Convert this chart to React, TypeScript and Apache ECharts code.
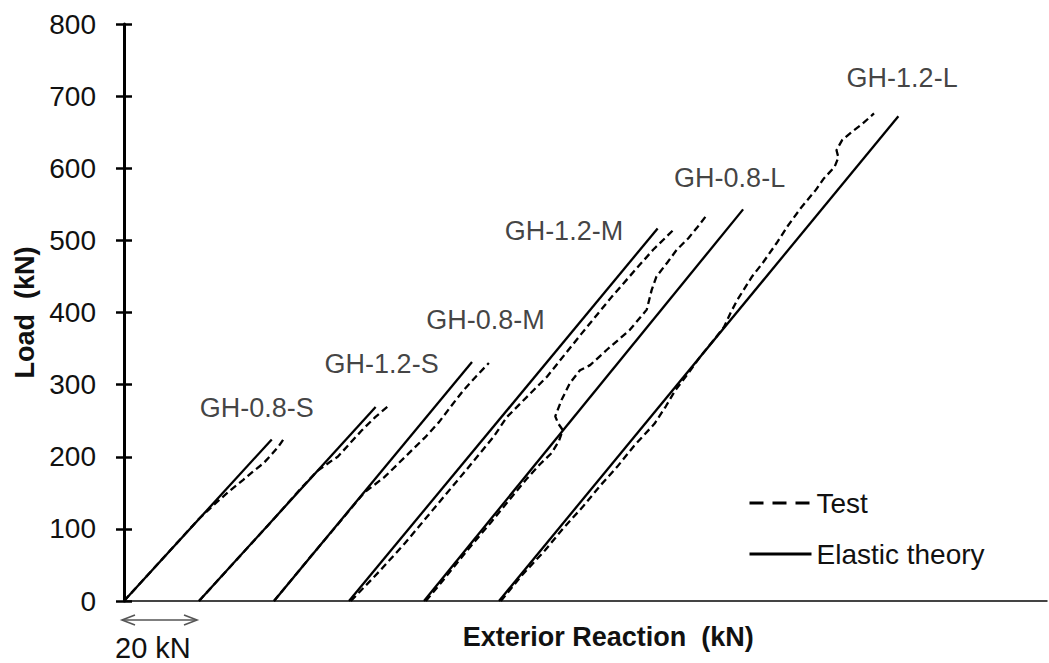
import React, { useEffect, useRef } from "react";
import * as echarts from "echarts";

// ---------- data (x = exterior reaction incl. 20 kN offset per specimen, y = load, kN) ----------
const specimenNames = ["GH-0.8-S", "GH-1.2-S", "GH-0.8-M", "GH-1.2-M", "GH-0.8-L", "GH-1.2-L"];
const originOffsets = [0, 20, 40, 60, 80, 100];
const elasticEndX = [39.4, 67.1, 92.8, 142.3, 165.1, 206.5];
const elasticEndLoad = [224, 269, 331.5, 516.5, 543, 672];

const test08S = [[0, 0], [10, 57], [20, 114], [24.3, 135], [28, 152], [31.8, 168], [34.5, 180], [37.2, 191], [39.5, 204], [41.3, 215], [42.5, 224]];
const test12S = [[20, 0], [30, 57], [40, 114], [47, 155], [51.5, 180], [55.5, 195], [57, 200], [60.5, 220], [63.5, 237], [67, 255], [70.2, 269]];
const test08M = [[40, 0], [50, 63], [56, 100], [60.8, 130], [64, 150], [69.5, 172], [75, 200], [80.5, 228], [84, 248], [87.2, 270], [90.5, 292], [94, 312], [97.3, 330]];
const test12M = [[60.5, 0], [67.9, 40], [74.9, 80], [82.3, 126], [91, 180], [98.6, 228], [102.1, 255], [112.8, 311], [121.9, 370], [130.1, 422], [136.5, 460], [141.1, 487], [146.6, 515]];
const test08L = [[80.5, 0], [84.5, 25], [91.5, 70], [98, 110], [103.5, 145], [107.5, 170], [111, 190], [114, 205], [116, 222], [117, 237], [115.8, 246], [115, 256], [116.7, 279], [118.9, 302], [121.6, 320], [124.3, 327], [128.7, 348], [134.9, 376], [139.4, 404], [140.7, 431], [142, 450], [145, 470], [147.4, 487], [150.5, 503], [153, 519], [155.4, 535]];
const test12L = [[100.5, 0], [106, 35], [112.4, 71], [117, 100], [122.4, 131], [127, 160], [131.5, 186], [136, 215], [141.5, 246], [144.5, 270], [147, 292], [150.5, 316], [153.7, 339], [157, 360], [160, 380], [161.8, 400], [163.5, 417], [167.5, 450], [170.5, 470], [174, 496], [177, 520], [180.5, 545], [184.5, 570], [186.5, 585], [189.5, 602], [190.5, 615], [190, 625], [191.5, 639], [194, 650], [197, 662], [200, 676]];
const testCurves = [test08S, test12S, test08M, test12M, test08L, test12L];

// label anchor positions in data units
const labelX = [35.4, 68.7, 96.4, 117.3, 161.5, 207.5];
const labelY = [267.6, 328.6, 389.6, 513, 586.5, 725];

const yMin = 0;
const yMax = 800;
const yInterval = 100;
const xMin = 0;
const xMax = 246;
const scaleBarKN = 20;

const FONT = "'Liberation Sans', Arial, sans-serif";
const TXT = "#111";

export default function App() {
  const ref = useRef<HTMLDivElement>(null);

  useEffect(() => {
    document.body.style.margin = "0";
    const chart = echarts.init(ref.current!, null, { renderer: "svg" });

    const series: any[] = [];
    testCurves.forEach((curve, i) => {
      series.push({
        name: "Test",
        type: "line",
        data: curve,
        symbol: "none",
        silent: true,
        color: "#000",
        lineStyle: { color: "#000", width: 2.3, type: [7, 4] },
        z: 3,
      });
      series.push({
        name: "Elastic theory",
        type: "line",
        data: [
          [originOffsets[i], 0],
          [elasticEndX[i], elasticEndLoad[i]],
        ],
        symbol: "none",
        silent: true,
        color: "#000",
        lineStyle: { color: "#000", width: 2.3, type: "solid" },
        z: 4,
      });
    });
    series.push({
      name: "labels",
      type: "scatter",
      silent: true,
      symbolSize: 1,
      itemStyle: { color: "transparent" },
      data: specimenNames.map((n, i) => ({ name: n, value: [labelX[i], labelY[i]] })),
      label: {
        show: true,
        position: "inside",
        formatter: (p: any) => p.name,
        fontFamily: FONT,
        fontSize: 27,
        color: TXT,
      },
    });

    const option: any = {
      animation: false,
      backgroundColor: "#fff",
      grid: { left: 124, right: 2.5, top: 24, bottom: 62, containLabel: false },
      legend: {
        orient: "vertical",
        left: 748,
        top: 488,
        padding: 0,
        itemWidth: 62,
        itemHeight: 14,
        itemGap: 21,
        selectedMode: false,
        textStyle: { fontFamily: FONT, fontSize: 28, color: TXT, lineHeight: 30 },
        data: [
          {
            name: "Test",
            itemStyle: { opacity: 0, borderWidth: 0 },
            lineStyle: { color: "#000", width: 3, type: [14, 9] },
          },
          {
            name: "Elastic theory",
            itemStyle: { opacity: 0, borderWidth: 0 },
            lineStyle: { color: "#000", width: 3, type: "solid" },
          },
        ],
      },
      xAxis: [
        {
          type: "value",
          min: xMin,
          max: xMax,
          position: "bottom",
          name: "Exterior Reaction  (kN)",
          nameLocation: "middle",
          nameGap: 22,
          nameTextStyle: {
            fontFamily: FONT,
            fontSize: 27,
            fontWeight: "bold",
            color: TXT,
            padding: [0, 0, 0, 46],
          },
          axisLine: { show: true, lineStyle: { color: "#333", width: 2 } },
          axisTick: { show: false },
          axisLabel: { show: false },
          splitLine: { show: false },
        },
        {
          type: "value",
          min: xMin,
          max: xMax,
          position: "top",
          axisLine: { show: true, lineStyle: { color: "#444", width: 2 } },
          axisTick: { show: false },
          axisLabel: { show: false },
          splitLine: { show: false },
        },
      ],
      yAxis: [
        {
          type: "value",
          min: yMin,
          max: yMax,
          interval: yInterval,
          position: "left",
          name: "Load  (kN)",
          nameLocation: "middle",
          nameGap: 85,
          nameTextStyle: { fontFamily: FONT, fontSize: 27, fontWeight: "bold", color: TXT },
          axisLine: { show: true, lineStyle: { color: "#000", width: 3 } },
          axisTick: { show: true, inside: false, length: 8, lineStyle: { color: "#000", width: 2.5 } },
          axisLabel: { fontFamily: FONT, fontSize: 28, color: TXT, margin: 28 },
          splitLine: { show: false },
        },
        {
          type: "value",
          min: yMin,
          max: yMax,
          interval: yInterval,
          position: "left",
          axisLine: { show: false },
          axisTick: { show: true, inside: true, length: 8, lineStyle: { color: "#000", width: 2.5 } },
          axisLabel: { show: false },
          splitLine: { show: false },
        },
      ],
      series,
    };

    chart.setOption(option);

    const p0 = chart.convertToPixel({ gridIndex: 0 }, [0, 0]) as number[];
    const p1 = chart.convertToPixel({ gridIndex: 0 }, [scaleBarKN, 0]) as number[];
    const ay = p0[1] + 19;
    const xa = p0[0] - 2;
    const xb = p1[0] - 2;
    const arrowStyle = { stroke: "#555", lineWidth: 1.6, fill: null };
    chart.setOption({
      graphic: [
        { type: "line", silent: true, shape: { x1: xa, y1: ay, x2: xb, y2: ay }, style: arrowStyle },
        {
          type: "polyline",
          silent: true,
          shape: { points: [[xa + 13, ay - 5], [xa, ay], [xa + 13, ay + 5]] },
          style: arrowStyle,
        },
        {
          type: "polyline",
          silent: true,
          shape: { points: [[xb - 13, ay - 5], [xb, ay], [xb - 13, ay + 5]] },
          style: arrowStyle,
        },
        {
          type: "text",
          silent: true,
          x: p0[0] - 9,
          y: p0[1] + 47,
          style: {
            text: scaleBarKN + " kN",
            fontFamily: FONT,
            fontSize: 29,
            fill: TXT,
            verticalAlign: "middle",
          },
        },
      ],
    });

    return () => chart.dispose();
  }, []);

  return (
    <div
      ref={ref}
      style={{ position: "absolute", left: 0, top: 0, width: 1049, height: 663 }}
    />
  );
}
